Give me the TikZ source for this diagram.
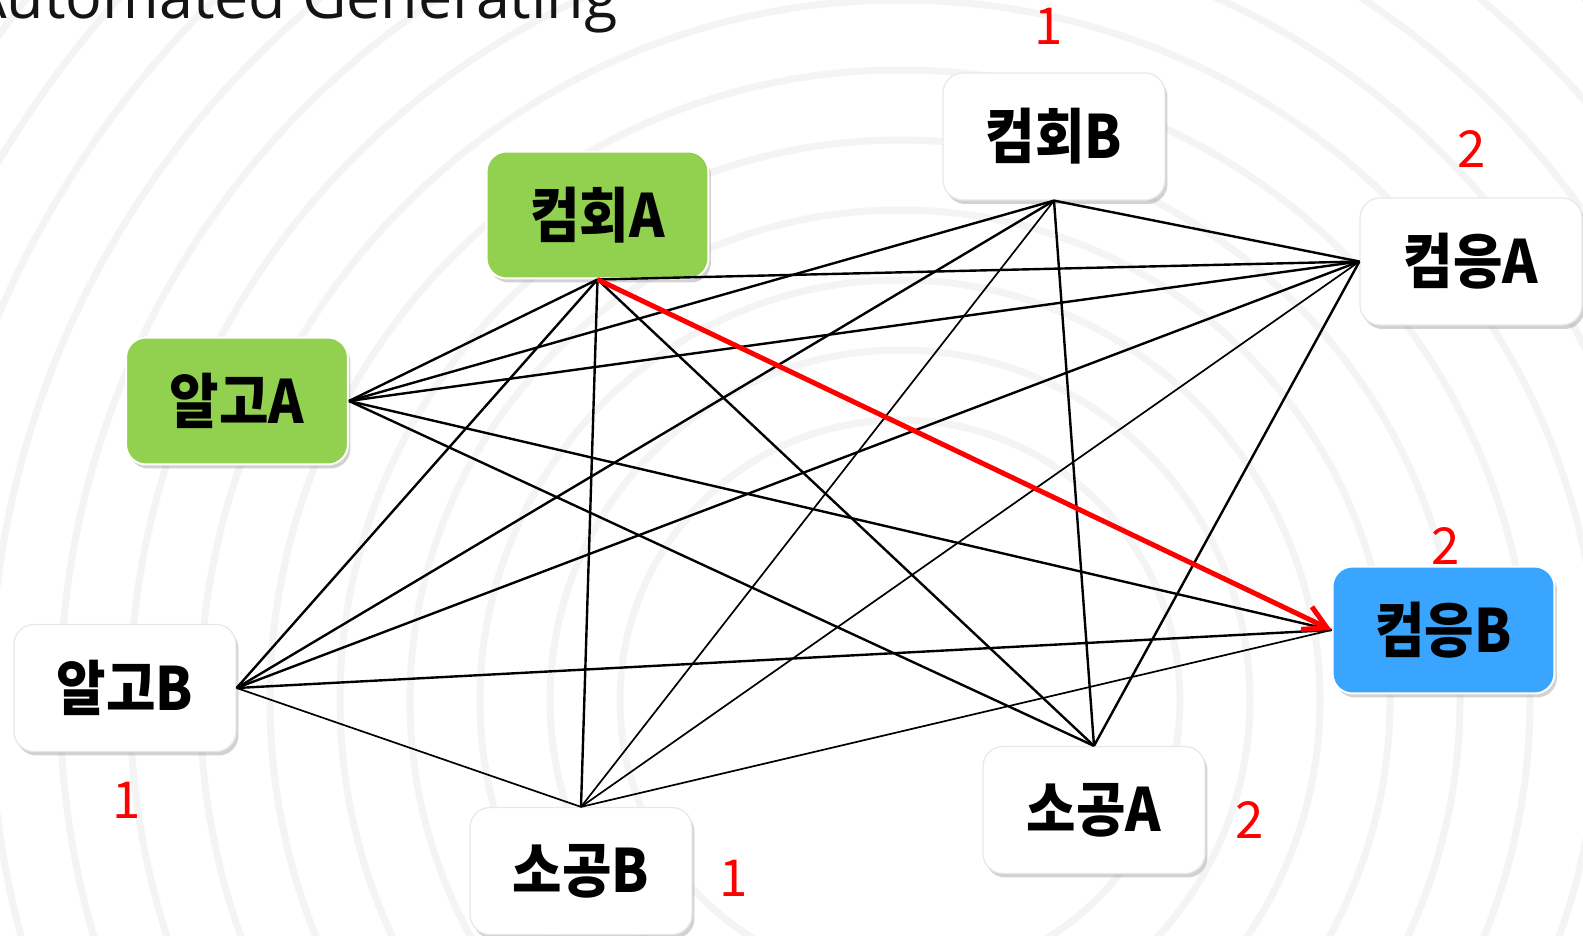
\documentclass[tikz,border=0pt]{standalone}
\usepackage{fontspec}
\usetikzlibrary{shadows,arrows.meta}
\newfontfamily\krfont[FakeStretch=0.9]{Noto Sans CJK KR}
\newfontfamily\numfont{Noto Sans CJK KR}
\newfontfamily\titlefont{Open Sans}
\definecolor{nodegreen}{RGB}{146,208,80}
\definecolor{nodeblue}{RGB}{58,165,255}
\definecolor{arrowred}{RGB}{255,0,0}
\definecolor{titlegray}{RGB}{20,20,20}
\definecolor{ringgray}{RGB}{244,244,244}
\definecolor{boxedge}{RGB}{232,232,232}
\tikzset{
  nodebox/.style={draw=white, line width=0.04cm, rounded corners=0.4cm,
    minimum width=4.44cm, minimum height=2.54cm, inner sep=0pt,
    font=\krfont\bfseries\fontsize{34}{34}\selectfont,
    drop shadow={opacity=0.35, shadow xshift=0.05cm, shadow yshift=-0.08cm}},
  whitebox/.style={nodebox, fill=white, draw=boxedge, line width=0.025cm},
  greenbox/.style={nodebox, fill=nodegreen},
  bluebox/.style={nodebox, fill=nodeblue},
  num/.style={text=arrowred, inner sep=0pt, font=\numfont\fontsize{29}{29}\selectfont},
  edge/.style={draw=black, line width=0.048cm},
  thinedge/.style={draw=black, line width=0.034cm},
  redarrow/.style={draw=arrowred, line width=0.1cm, -{Straight Barb[length=0.45cm,width=0.5cm,line width=0.1cm]}},
  ring/.style={draw=ringgray, line width=0.14cm}
}
\begin{document}
\begin{tikzpicture}[x=0.02cm, y=-0.02cm]
\useasboundingbox (0,0) rectangle (1583,936);
\begin{scope}
\clip (0,0) rectangle (1583,936);
\fill[white] (0,0) rectangle (1583,936);
\foreach \r in {280,350,...,1250} {
  \draw[ring] (900,700) circle[radius={\r*0.02cm}];
}
\node[anchor=base east, inner sep=0pt, text=titlegray, font=\titlefont\fontsize{34.7}{34.7}\selectfont] (title) at (618,19) {Automated Generating};
\end{scope}

\node[greenbox] (cA) at (597.5,215) {컴회A};
\node[whitebox] (cB) at (1054,136.5) {컴회B};
\node[whitebox] (eA) at (1471,261.5) {컴응A};
\node[greenbox] (aA) at (237,401) {알고A};
\node[bluebox] (eB) at (1443.5,630) {컴응B};
\node[whitebox] (aB) at (125,688) {알고B};
\node[whitebox] (sA) at (1094,810) {소공A};
\node[whitebox] (sB) at (581,871) {소공B};

\node[num] (n1) at (1049,26) {1};
\node[num] (n2) at (1472,149) {2};
\node[num] (n3) at (1446,546) {2};
\node[num] (n4) at (127,800) {1};
\node[num] (n5) at (734,878) {1};
\node[num] (n6) at (1250,820) {2};

\draw[edge] (cA.south) -- (aA.east);
\draw[edge] (cA.south) -- (aB.east);
\draw[edge] (cA.south) -- (sB.north);
\draw[edge] (cA.south) -- (sA.north);
\draw[edge] (cA.south) -- (eA.west);
\draw[edge] (aA.east) -- (cB.south);
\draw[edge] (aA.east) -- (eA.west);
\draw[edge] (aA.east) -- (sA.north);
\draw[edge] (aA.east) -- (eB.west);
\draw[edge] (cB.south) -- (eA.west);
\draw[edge] (cB.south) -- (aB.east);
\draw[edge] (cB.south) -- (sA.north);
\draw[edge] (eA.west) -- (aB.east);
\draw[edge] (eA.west) -- (sA.north);
\draw[edge] (aB.east) -- (eB.west);
\draw[thinedge] (cB.south) -- (sB.north);
\draw[thinedge] (eA.west) -- (sB.north);
\draw[thinedge] (aB.east) -- (sB.north);
\draw[thinedge] (sB.north) -- (eB.west);
\draw[redarrow] (cA.south) -- (eB.west);
\end{tikzpicture}
\end{document}
